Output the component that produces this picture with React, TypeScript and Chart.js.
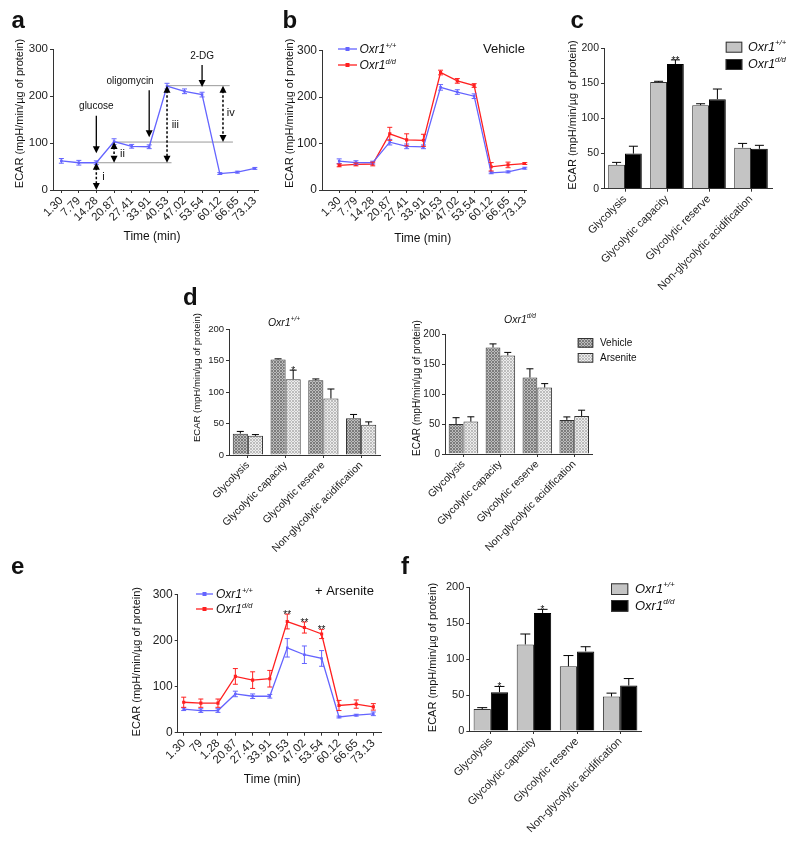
import React, { useEffect, useRef } from "react";
import { Chart, registerables } from "chart.js";
Chart.register(...registerables);

const FONT = "'Liberation Sans', Arial, Helvetica, sans-serif";
const BLUE = "#6464ff";
const RED = "#ff2020";
const AXIS = "#333333";
const GRAY_BAR = "#c4c4c4";
const INK = "#111111";

// ---------------- data ----------------
const timePoints = [1.3, 7.79, 14.28, 20.87, 27.41, 33.91, 40.53, 47.02, 53.54, 60.12, 66.65, 73.13];
const timeTickLabels = ["1.30", "7.79", "14.28", "20.87", "27.41", "33.91", "40.53", "47.02", "53.54", "60.12", "66.65", "73.13"];
const timeTickLabelsE = ["1.30", "79", "1.28", "20.87", "27.41", "33.91", "40.53", "47.02", "53.54", "60.12", "66.65", "73.13"];

const aWildType = [62, 58, 58, 103, 93, 92, 221, 210, 203, 35, 38, 46];
const aWildTypeErr = [5, 5, 4, 6, 4, 4, 6, 5, 5, 2, 2, 2];

const bWildType = [62, 59, 59, 103, 94, 93, 221, 211, 202, 37, 39, 47];
const bWildTypeErr = [5, 4, 3, 6, 5, 4, 6, 5, 5, 2, 2, 2];
const bMutant = [53, 55, 56, 121, 108, 107, 253, 235, 225, 50, 54, 57];
const bMutantErr = [3, 3, 4, 14, 13, 13, 5, 5, 4, 9, 6, 2];

const eWildType = [51, 48, 48, 84, 79, 79, 184, 169, 161, 34, 38, 41];
const eWildTypeErr = [3, 4, 4, 6, 5, 4, 20, 19, 17, 2, 2, 4];
const eMutant = [66, 64, 64, 122, 114, 117, 241, 228, 214, 59, 62, 56];
const eMutantErr = [11, 9, 9, 17, 18, 18, 16, 12, 10, 11, 9, 7];
const eStars = ["", "", "", "", "", "", "**", "**", "**", "", "", ""];

const parameters = ["Glycolysis", "Glycolytic capacity", "Glycolytic reserve", "Non-glycolytic acidification"];
const wtVehicle = [34, 152, 119, 58.5];
const wtVehicleErr = [3.5, 1, 2, 6];
const mutVehicle = [50, 177.5, 127.5, 56.8];
const mutVehicleErr = [10.5, 6, 14.5, 5];
const wtArsenite = [30.5, 120.5, 90, 48];
const wtArseniteErr = [2, 14.5, 15, 4.7];
const mutArsenite = [54, 164.3, 110.8, 63.3];
const mutArseniteErr = [8, 5, 6.5, 9.7];
const cStars = ["", "**", "", ""];
const dWildTypeStars = ["", "*", "", ""];
const fStars = ["*", "*", "", ""];

// panel a annotations (data coordinates)
const aRefLines = [
  { y: 58, x1: 14.28, x2: 42.2 },
  { y: 102, x1: 20.87, x2: 65.0 },
  { y: 222, x1: 40.53, x2: 63.8 },
];
const aInjections = [
  { label: "glucose", x: 14.28, from: 158, to: 78, lx: 14.28, ly: 172 },
  { label: "oligomycin", x: 33.91, from: 212, to: 112, lx: 26.8, ly: 226 },
  { label: "2-DG", x: 53.54, from: 266, to: 219, lx: 53.54, ly: 279 },
];
const aSpans = [
  { label: "i", x: 14.28, y1: 0, y2: 58, lx: 16.9, ly: 28 },
  { label: "ii", x: 20.87, y1: 58, y2: 102, lx: 24.0, ly: 77 },
  { label: "iii", x: 40.53, y1: 58, y2: 222, lx: 43.6, ly: 138 },
  { label: "iv", x: 61.3, y1: 102, y2: 222, lx: 64.2, ly: 163 },
];

// ---------------- helpers ----------------
type Area = { l: number; t: number; r: number; b: number };
type Box = { left: number; top: number; width: number; height: number; area: Area };

function fontStr(size: number, italic = false, bold = false) {
  return `${italic ? "italic " : ""}${bold ? "bold " : ""}${size}px ${FONT}`;
}

type Part = { t: string; size: number; italic?: boolean; bold?: boolean; dy?: number };

function drawRich(ctx: CanvasRenderingContext2D, x: number, y: number, parts: Part[], align: string, baseline: CanvasTextBaseline, rot = 0) {
  ctx.save();
  ctx.translate(x, y);
  if (rot) ctx.rotate(rot);
  let w = 0;
  parts.forEach((p) => {
    ctx.font = fontStr(p.size, p.italic, p.bold);
    w += ctx.measureText(p.t).width;
  });
  let cx = align === "center" ? -w / 2 : align === "right" ? -w : 0;
  ctx.fillStyle = INK;
  ctx.textBaseline = baseline;
  ctx.textAlign = "left";
  parts.forEach((p) => {
    ctx.font = fontStr(p.size, p.italic, p.bold);
    ctx.fillText(p.t, cx, p.dy || 0);
    cx += ctx.measureText(p.t).width;
  });
  ctx.restore();
}

function geneParts(sup: string, size: number): Part[] {
  return [
    { t: "Oxr1", size, italic: true },
    { t: sup, size: size * 0.62, italic: true, dy: -size * 0.38 },
  ];
}

function arrowHead(ctx: CanvasRenderingContext2D, x: number, y: number, dir: number) {
  const len = 7, half = 3.5;
  ctx.beginPath();
  ctx.moveTo(x, y);
  ctx.lineTo(x - half, y - dir * len);
  ctx.lineTo(x + half, y - dir * len);
  ctx.closePath();
  ctx.fill();
}

const extrasPlugin = {
  id: "extras",
  beforeDatasetsDraw(chart: any) {
    const o = chart.options.plugins.extras || {};
    const ctx: CanvasRenderingContext2D = chart.ctx;
    if (o.refLines) {
      const xs = chart.scales.x, ys = chart.scales.y;
      ctx.save();
      ctx.strokeStyle = "#9a9a9a";
      ctx.lineWidth = 1;
      o.refLines.forEach((r: any) => {
        const py = ys.getPixelForValue(r.y);
        ctx.beginPath();
        ctx.moveTo(xs.getPixelForValue(r.x1), py);
        ctx.lineTo(xs.getPixelForValue(r.x2), py);
        ctx.stroke();
      });
      ctx.restore();
    }
  },
  afterDatasetsDraw(chart: any) {
    const o = chart.options.plugins.extras || {};
    const ctx: CanvasRenderingContext2D = chart.ctx;
    const ys = chart.scales.y;
    const isBar = chart.config.type === "bar";
    chart.data.datasets.forEach((ds: any, di: number) => {
      const meta = chart.getDatasetMeta(di);
      const errs: number[] | undefined = ds.errors;
      if (!errs) return;
      meta.data.forEach((el: any, i: number) => {
        const raw = ds.data[i];
        const v = typeof raw === "number" ? raw : raw.y;
        const top = ys.getPixelForValue(v + errs[i]);
        const bot = ys.getPixelForValue(v - errs[i]);
        const cap = ds.capHalf ?? 2.5;
        ctx.save();
        ctx.strokeStyle = ds.errorColor || "#000";
        ctx.lineWidth = 1;
        ctx.beginPath();
        if (isBar) {
          ctx.moveTo(el.x, el.y);
          ctx.lineTo(el.x, top);
          ctx.moveTo(el.x - cap, top);
          ctx.lineTo(el.x + cap, top);
        } else {
          ctx.moveTo(el.x, bot);
          ctx.lineTo(el.x, top);
          ctx.moveTo(el.x - cap, top);
          ctx.lineTo(el.x + cap, top);
          ctx.moveTo(el.x - cap, bot);
          ctx.lineTo(el.x + cap, bot);
        }
        ctx.stroke();
        ctx.restore();
        const s = ds.stars ? ds.stars[i] : "";
        if (s) {
          ctx.save();
          ctx.fillStyle = INK;
          ctx.font = fontStr(10);
          ctx.textAlign = "center";
          ctx.textBaseline = "alphabetic";
          ctx.fillText(s, el.x, top - 1 + 5);
          ctx.restore();
        }
      });
    });
    if (o.injections) {
      const xs = chart.scales.x;
      ctx.save();
      ctx.strokeStyle = "#000";
      ctx.fillStyle = "#000";
      ctx.lineWidth = 1.3;
      o.injections.forEach((a: any) => {
        const px = xs.getPixelForValue(a.x);
        const y1 = ys.getPixelForValue(a.from);
        const y2 = ys.getPixelForValue(a.to);
        ctx.beginPath();
        ctx.moveTo(px, y1);
        ctx.lineTo(px, y2 - 5);
        ctx.stroke();
        arrowHead(ctx, px, y2, 1);
        ctx.font = fontStr(10);
        ctx.textAlign = "center";
        ctx.textBaseline = "alphabetic";
        ctx.fillStyle = INK;
        ctx.fillText(a.label, xs.getPixelForValue(a.lx), ys.getPixelForValue(a.ly));
        ctx.fillStyle = "#000";
      });
      o.spans.forEach((s: any) => {
        const px = xs.getPixelForValue(s.x);
        const yb = ys.getPixelForValue(s.y1);
        const yt = ys.getPixelForValue(s.y2);
        ctx.save();
        ctx.setLineDash([2.5, 2]);
        ctx.lineWidth = 1.5;
        ctx.beginPath();
        ctx.moveTo(px, yt + 5);
        ctx.lineTo(px, yb - 5);
        ctx.stroke();
        ctx.restore();
        arrowHead(ctx, px, yt, -1);
        arrowHead(ctx, px, yb, 1);
        ctx.font = fontStr(11);
        ctx.textAlign = "center";
        ctx.textBaseline = "middle";
        ctx.fillStyle = INK;
        ctx.fillText(s.label, xs.getPixelForValue(s.lx), ys.getPixelForValue(s.ly));
        ctx.fillStyle = "#000";
      });
      ctx.restore();
    }
  },
  afterDraw(chart: any) {
    const o = chart.options.plugins.extras || {};
    const ctx: CanvasRenderingContext2D = chart.ctx;
    const ox = o.ox || 0, oy = o.oy || 0;
    (o.texts || []).forEach((t: any) => {
      const parts: Part[] = t.parts || [{ t: t.text, size: t.size, italic: t.italic, bold: t.bold }];
      drawRich(ctx, t.x - ox, t.y - oy, parts, t.align || "center", t.baseline || "middle", t.rot || 0);
    });
    (o.legend || []).forEach((it: any) => {
      ctx.save();
      if (it.kind === "line") {
        ctx.strokeStyle = it.color;
        ctx.lineWidth = 1.3;
        ctx.beginPath();
        ctx.moveTo(it.x1 - ox, it.y - oy);
        ctx.lineTo(it.x2 - ox, it.y - oy);
        ctx.stroke();
        ctx.fillStyle = it.color;
        const m = (it.x1 + it.x2) / 2 - ox;
        ctx.fillRect(m - 2, it.y - oy - 2, 4, 4);
      } else {
        ctx.fillStyle = it.fill;
        ctx.fillRect(it.x - ox, it.y - oy, it.w, it.h);
        ctx.strokeStyle = "#333";
        ctx.lineWidth = 1;
        ctx.strokeRect(it.x - ox + 0.5, it.y - oy + 0.5, it.w - 1, it.h - 1);
      }
      ctx.restore();
      const parts: Part[] = it.sup ? geneParts(it.sup, it.size) : [{ t: it.text, size: it.size }];
      drawRich(ctx, it.tx - ox, it.ty - oy, parts, "left", "middle");
    });
  },
};
Chart.register(extrasPlugin);

function layoutFor(box: Box) {
  return {
    padding: { left: 0, top: box.area.t - box.top, right: box.left + box.width - box.area.r, bottom: 0 },
  };
}

const gridOpts = { display: true, drawOnChartArea: false, drawTicks: true, tickLength: 3, color: AXIS, tickColor: AXIS, lineWidth: 1 };
const borderOpts = { display: true, color: AXIS, width: 1 };

function yAxis(box: Box, max: number, step: number, size: number) {
  return {
    type: "linear",
    min: 0,
    max,
    ticks: { stepSize: step, color: "#222", font: { family: FONT, size }, padding: 2 },
    grid: gridOpts,
    border: borderOpts,
    afterFit: (s: any) => {
      s.width = box.area.l - box.left;
      s.paddingTop = 0;
      s.paddingBottom = 0;
    },
  };
}

function timeAxis(box: Box, labels: string[], min: number, max: number, size: number) {
  return {
    type: "linear",
    min,
    max,
    afterBuildTicks: (s: any) => {
      s.ticks = timePoints.map((v) => ({ value: v }));
    },
    ticks: {
      autoSkip: false,
      maxRotation: 45,
      minRotation: 45,
      color: "#222",
      font: { family: FONT, size },
      padding: 1,
      callback: (_v: any, i: number) => labels[i],
    },
    grid: gridOpts,
    border: borderOpts,
    afterFit: (s: any) => {
      s.height = box.top + box.height - box.area.b;
      s.paddingLeft = 0;
      s.paddingRight = 0;
    },
  };
}

function catAxis(box: Box, size: number) {
  return {
    type: "category",
    offset: true,
    ticks: { autoSkip: false, maxRotation: 45, minRotation: 45, color: "#222", font: { family: FONT, size }, padding: 1 },
    grid: { ...gridOpts, offset: false },
    border: borderOpts,
    afterFit: (s: any) => {
      s.height = box.top + box.height - box.area.b;
      s.paddingLeft = 0;
      s.paddingRight = 0;
    },
  };
}

function pts(values: number[]) {
  return values.map((v, i) => ({ x: timePoints[i], y: v }));
}

function lineDs(values: number[], errs: number[], color: string, radius: number, stars?: string[]) {
  return {
    data: pts(values),
    errors: errs,
    stars,
    errorColor: color,
    capHalf: 2.5,
    borderColor: color,
    backgroundColor: color,
    borderWidth: 1.3,
    pointStyle: "rect",
    pointRadius: radius,
    pointBackgroundColor: color,
    pointBorderWidth: 0,
    tension: 0,
  };
}

function barDs(values: number[], errs: number[], fill: any, border: string, capHalf: number, stars?: string[]) {
  return {
    data: values,
    errors: errs,
    stars,
    errorColor: "#000",
    capHalf,
    backgroundColor: fill,
    borderColor: border,
    borderWidth: 1,
    categoryPercentage: 0.8,
    barPercentage: 1.0,
  };
}

const yTitle = "ECAR (mpH/min/µg of protein)";

function commonOpts(box: Box, extras: any, scales: any) {
  return {
    responsive: false,
    animation: false,
    layout: layoutFor(box),
    plugins: { legend: { display: false }, tooltip: { enabled: false }, extras: { ox: box.left, oy: box.top, ...extras } },
    scales,
  };
}

function makePattern(base: string, dot: string) {
  const c = document.createElement("canvas");
  c.width = 3;
  c.height = 3;
  const g = c.getContext("2d")!;
  g.fillStyle = base;
  g.fillRect(0, 0, 3, 3);
  g.fillStyle = dot;
  for (let x = 0; x < 3; x++)
    for (let y = 0; y < 3; y++) if ((x + y) % 3 === 0 || (x - y + 3) % 3 === 0) g.fillRect(x, y, 1, 1);
  return g.createPattern(c, "repeat");
}

// ---------------- panel layouts (page px) ----------------
const boxA: Box = { left: 0, top: 0, width: 265, height: 250, area: { l: 53, t: 49, r: 258, b: 190 } };
const boxB: Box = { left: 265, top: 0, width: 265, height: 250, area: { l: 322, t: 50.7, r: 527, b: 190 } };
const boxC: Box = { left: 530, top: 0, width: 270, height: 295, area: { l: 604, t: 48.3, r: 772, b: 188.7 } };
const boxDL: Box = { left: 180, top: 285, width: 230, height: 280, area: { l: 229, t: 329.3, r: 380, b: 455 } };
const boxDR: Box = { left: 410, top: 285, width: 250, height: 280, area: { l: 445, t: 334, r: 592.7, b: 454 } };
const boxE: Box = { left: 0, top: 555, width: 400, height: 240, area: { l: 177.7, t: 594.3, r: 381.7, b: 732.7 } };
const boxF: Box = { left: 400, top: 555, width: 400, height: 291, area: { l: 469.3, t: 587.3, r: 641.7, b: 731 } };

function letter(ch: string, x: number, y: number) {
  return { text: ch, x, y, size: 24, bold: true, align: "left", baseline: "alphabetic" };
}
function yTitleText(x: number, y: number, size: number) {
  return { text: yTitle, x, y, size, rot: -Math.PI / 2 };
}

const buildA = () => ({
  type: "line",
  data: { datasets: [lineDs(aWildType, aWildTypeErr, BLUE, 1.8)] },
  options: commonOpts(
    boxA,
    {
      refLines: aRefLines,
      injections: aInjections,
      spans: aSpans,
      texts: [letter("a", 11.5, 28.3), yTitleText(20, 113.5, 11), { text: "Time (min)", x: 152, y: 237, size: 12 }],
    },
    { x: timeAxis(boxA, timeTickLabels, -1.8, 74.3, 11.5), y: yAxis(boxA, 300, 100, 11.5) }
  ),
});

const buildB = () => ({
  type: "line",
  data: { datasets: [lineDs(bWildType, bWildTypeErr, BLUE, 1.8), lineDs(bMutant, bMutantErr, RED, 2.2)] },
  options: commonOpts(
    boxB,
    {
      texts: [
        letter("b", 282.5, 28.3),
        yTitleText(290, 113.3, 11),
        { text: "Time (min)", x: 422.7, y: 239, size: 12 },
        { text: "Vehicle", x: 483, y: 49.5, size: 13, align: "left" },
      ],
      legend: [
        { kind: "line", color: BLUE, x1: 338, x2: 357, y: 49, tx: 359.5, ty: 50, sup: "+/+", size: 12 },
        { kind: "line", color: RED, x1: 338, x2: 357, y: 65, tx: 359.5, ty: 66, sup: "d/d", size: 12 },
      ],
    },
    { x: timeAxis(boxB, timeTickLabels, -5.35, 73.6, 11.5), y: yAxis(boxB, 300, 100, 12) }
  ),
});

const buildC = () => ({
  type: "bar",
  data: {
    labels: parameters,
    datasets: [barDs(wtVehicle, wtVehicleErr, GRAY_BAR, "#333", 4.5), barDs(mutVehicle, mutVehicleErr, "#000", "#000", 4.5, cStars)],
  },
  options: commonOpts(
    boxC,
    {
      texts: [letter("c", 570.5, 28.3), yTitleText(573.3, 115, 11)],
      legend: [
        { kind: "box", fill: GRAY_BAR, x: 725.7, y: 41.7, w: 16.6, h: 11, tx: 748, ty: 47.5, sup: "+/+", size: 12.5 },
        { kind: "box", fill: "#000", x: 725.7, y: 59, w: 16.6, h: 11, tx: 748, ty: 65, sup: "d/d", size: 12.5 },
      ],
    },
    { x: catAxis(boxC, 11), y: yAxis(boxC, 200, 50, 10.5) }
  ),
});

const buildDL = (pv: any, pa: any) => ({
  type: "bar",
  data: {
    labels: parameters,
    datasets: [barDs(wtVehicle, wtVehicleErr, pv, "#333", 3.5), barDs(wtArsenite, wtArseniteErr, pa, "#333", 3.5, dWildTypeStars)],
  },
  options: commonOpts(
    boxDL,
    {
      texts: [
        letter("d", 183, 305),
        yTitleText(197.5, 377.5, 9.5),
        { parts: geneParts("+/+", 10.5), x: 284, y: 323 },
      ],
    },
    { x: catAxis(boxDL, 10.5), y: yAxis(boxDL, 200, 50, 9.5) }
  ),
});

const buildDR = (pv: any, pa: any) => ({
  type: "bar",
  data: {
    labels: parameters,
    datasets: [barDs(mutVehicle, mutVehicleErr, pv, "#333", 3.5), barDs(mutArsenite, mutArseniteErr, pa, "#333", 3.5)],
  },
  options: commonOpts(
    boxDR,
    {
      texts: [yTitleText(417.5, 388, 10), { parts: geneParts("d/d", 10.5), x: 520, y: 320 }],
      legend: [
        { kind: "box", fill: pv, x: 577.7, y: 338, w: 15.6, h: 9.7, tx: 600, ty: 343, text: "Vehicle", size: 10 },
        { kind: "box", fill: pa, x: 577.7, y: 353, w: 15.6, h: 9.7, tx: 600, ty: 358, text: "Arsenite", size: 10 },
      ],
    },
    { x: catAxis(boxDR, 10.5), y: yAxis(boxDR, 200, 50, 10) }
  ),
});

const buildE = () => ({
  type: "line",
  data: { datasets: [lineDs(eWildType, eWildTypeErr, BLUE, 1.8), lineDs(eMutant, eMutantErr, RED, 2.2, eStars)] },
  options: commonOpts(
    boxE,
    {
      texts: [
        letter("e", 11, 574),
        yTitleText(136.7, 661.7, 11),
        { text: "Time (min)", x: 272.3, y: 780, size: 12 },
        { text: "+ Arsenite", x: 315, y: 591.5, size: 13, align: "left" },
      ],
      legend: [
        { kind: "line", color: BLUE, x1: 196, x2: 213, y: 594, tx: 216, ty: 595, sup: "+/+", size: 12 },
        { kind: "line", color: RED, x1: 196, x2: 213, y: 609, tx: 216, ty: 610, sup: "d/d", size: 12 },
      ],
    },
    { x: timeAxis(boxE, timeTickLabelsE, -0.97, 76.3, 11.5), y: yAxis(boxE, 300, 100, 12) }
  ),
});

const buildF = () => ({
  type: "bar",
  data: {
    labels: parameters,
    datasets: [barDs(wtArsenite, wtArseniteErr, GRAY_BAR, "#333", 5), barDs(mutArsenite, mutArseniteErr, "#000", "#000", 5, fStars)],
  },
  options: commonOpts(
    boxF,
    {
      texts: [letter("f", 401, 574), yTitleText(433.3, 657.5, 11)],
      legend: [
        { kind: "box", fill: GRAY_BAR, x: 611, y: 583.3, w: 17.3, h: 11.7, tx: 635, ty: 589.5, sup: "+/+", size: 13 },
        { kind: "box", fill: "#000", x: 611, y: 600, w: 17.3, h: 11.7, tx: 635, ty: 606.5, sup: "d/d", size: 13 },
      ],
    },
    { x: catAxis(boxF, 11), y: yAxis(boxF, 200, 50, 11) }
  ),
});

function ChartCanvas({ box, build }: { box: Box; build: () => any }) {
  const ref = useRef<HTMLCanvasElement>(null);
  useEffect(() => {
    const chart = new Chart(ref.current as HTMLCanvasElement, build());
    return () => chart.destroy();
  }, []);
  return (
    <canvas
      ref={ref}
      width={box.width}
      height={box.height}
      style={{ position: "absolute", left: box.left, top: box.top, width: box.width, height: box.height }}
    />
  );
}

export default function App() {
  const vehiclePattern = () => makePattern("#bdbdbd", "#7c7c7c");
  const arsenitePattern = () => makePattern("#ececec", "#bcbcbc");
  return (
    <div style={{ position: "absolute", left: 0, top: 0, width: 800, height: 846, background: "#fff", overflow: "hidden" }}>
      <ChartCanvas box={boxA} build={buildA} />
      <ChartCanvas box={boxB} build={buildB} />
      <ChartCanvas box={boxC} build={buildC} />
      <ChartCanvas box={boxDL} build={() => buildDL(vehiclePattern(), arsenitePattern())} />
      <ChartCanvas box={boxDR} build={() => buildDR(vehiclePattern(), arsenitePattern())} />
      <ChartCanvas box={boxE} build={buildE} />
      <ChartCanvas box={boxF} build={buildF} />
    </div>
  );
}
